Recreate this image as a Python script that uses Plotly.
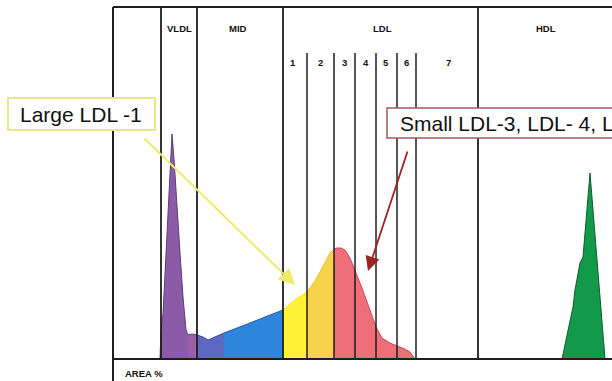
import plotly.graph_objects as go

# ---- data (x: migration distance units, y: relative absorbance units) ----
profile_x = [47, 48, 50, 53, 56, 59, 61, 63, 67, 70, 73, 75, 79, 84,
             90, 95, 102, 111, 122, 137, 152, 162, 170,
             182, 194, 202, 207, 212, 217, 221,
             224, 228, 232, 237, 242, 249, 257, 263, 269, 277, 284, 292, 297, 302]
profile_y = [0, 29, 45, 106, 172, 225, 200, 172, 106, 62, 29, 24, 25, 24,
             22, 19, 22, 26, 30, 36, 42, 46, 49,
             59, 67, 78, 87, 96, 106, 110,
             111, 111, 109, 101, 89, 71, 49, 32, 21, 16, 13, 10, 7, 0]

hdl_x = [449, 453, 457, 460, 462, 465, 467, 470, 473, 475, 477, 482, 487, 492]
hdl_y = [0, 20, 39, 52, 69, 86, 96, 102, 138, 162, 186, 124, 62, 0]

band_edges = [47, 75, 84, 111, 170, 194, 221, 302]
band_fill = ["#8B5BA7", "#9A5FA6", "#5D68C3", "#2F85DB", "#FFF236", "#F6D34B", "#EE6E7A"]
band_line = ["#5E3C7C", "#5E3C7C", "#3E4A96", "#1F5AA8", "#F2E020", "#E8BE30", "#C94C5A"]

main_lines = [48, 84, 170, 365]
sub_lines = [194, 221, 242, 263, 284, 303]
section_labels = ["VLDL", "MID", "LDL", "HDL"]
section_pos = [66, 125, 269, 433]
sub_labels = ["1", "2", "3", "4", "5", "6", "7"]
sub_pos = [180, 207, 231, 253, 273, 293, 335]

fig = go.Figure()

for i in range(len(band_fill)):
    lo, hi = band_edges[i], band_edges[i + 1]
    xs = [x for x in profile_x if lo <= x <= hi]
    ys = [y for x, y in zip(profile_x, profile_y) if lo <= x <= hi]
    fig.add_trace(go.Scatter(x=xs, y=ys, mode="lines", fill="tozeroy",
                             fillcolor=band_fill[i],
                             line=dict(color=band_line[i], width=1),
                             hoverinfo="skip", showlegend=False))

fig.add_trace(go.Scatter(x=hdl_x, y=hdl_y, mode="lines", fill="tozeroy",
                         fillcolor="#13994A", line=dict(color="#0B5E2C", width=1),
                         hoverinfo="skip", showlegend=False))

shapes = []
dark = "#1E1E1E"
# frame
shapes.append(dict(type="line", xref="x", yref="y", x0=0, x1=520, y0=352, y1=352,
                   line=dict(color=dark, width=2), layer="above"))
shapes.append(dict(type="line", xref="x", yref="y", x0=0, x1=0, y0=-25, y1=352,
                   line=dict(color=dark, width=2), layer="above"))
shapes.append(dict(type="line", xref="x", yref="y", x0=0, x1=520, y0=0, y1=0,
                   line=dict(color=dark, width=2), layer="above"))
for xv in main_lines:
    shapes.append(dict(type="line", xref="x", yref="y", x0=xv, x1=xv, y0=0, y1=352,
                       line=dict(color=dark, width=1.8), layer="above"))
for xv in sub_lines:
    shapes.append(dict(type="line", xref="x", yref="y", x0=xv, x1=xv, y0=0, y1=306,
                       line=dict(color=dark, width=1.5), layer="above"))
# callout boxes
shapes.append(dict(type="rect", xref="x", yref="y", x0=-105, x1=42, y0=229, y1=261,
                   fillcolor="white", line=dict(color="#E6E68A", width=2), layer="above"))
shapes.append(dict(type="rect", xref="x", yref="y", x0=274, x1=640, y0=221, y1=251,
                   fillcolor="white", line=dict(color="#A8585E", width=1.5), layer="above"))

annotations = []
hdr_font = dict(family="Liberation Sans Narrow, Liberation Sans, Arial", size=9.5, color="#111111")
for t, xv in zip(section_labels, section_pos):
    annotations.append(dict(x=xv, y=331, xref="x", yref="y", text="<b>" + t + "</b>",
                            showarrow=False, font=hdr_font))
for t, xv in zip(sub_labels, sub_pos):
    annotations.append(dict(x=xv, y=297, xref="x", yref="y", text="<b>" + t + "</b>",
                            showarrow=False, font=hdr_font))
annotations.append(dict(x=10, y=-14, xref="x", yref="y", text="<b>AREA %</b>",
                        xanchor="left", showarrow=False, font=hdr_font))

big_font = dict(family="Liberation Sans, Arial", size=21, color="#111111")
annotations.append(dict(x=-32, y=245, xref="x", yref="y", text="Large LDL -1",
                        showarrow=False, font=big_font))
annotations.append(dict(x=285, y=236, xref="x", yref="y", text="Small LDL-3, LDL- 4, LDL-5",
                        xanchor="left", showarrow=False, font=big_font))

# arrows
annotations.append(dict(x=182, y=74, xref="x", yref="y", ax=30, ay=222, axref="x", ayref="y",
                        text="", showarrow=True, arrowhead=2, arrowsize=1.6, arrowwidth=2,
                        arrowcolor="#EEEA6A"))
annotations.append(dict(x=255, y=88, xref="x", yref="y", ax=295, ay=209, axref="x", ayref="y",
                        text="", showarrow=True, arrowhead=2, arrowsize=1.6, arrowwidth=1.8,
                        arrowcolor="#9E2424"))

fig.update_layout(
    width=612, height=381,
    margin=dict(l=0, r=0, t=0, b=0),
    paper_bgcolor="white", plot_bgcolor="white",
    xaxis=dict(range=[-113, 499], visible=False, fixedrange=True),
    yaxis=dict(range=[-22, 359], visible=False, fixedrange=True),
    shapes=shapes, annotations=annotations, showlegend=False,
)

fig.write_html("out.html", config={"displayModeBar": False},
               post_script="document.body.style.margin='0';document.body.style.overflow='hidden';")
